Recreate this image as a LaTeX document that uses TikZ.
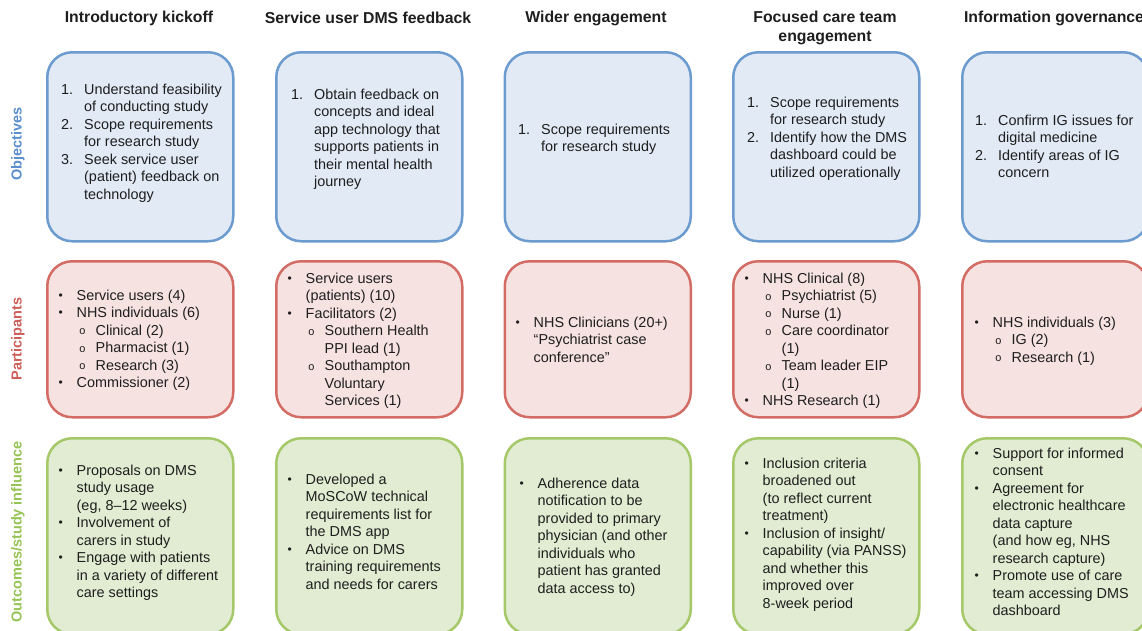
\documentclass[tikz,border=0pt]{standalone}
\usepackage{fontspec}
\setmainfont{Liberation Sans}
\setmonofont{Liberation Mono}
\definecolor{bluebd}{RGB}{108,155,207}
\definecolor{bluefl}{RGB}{226,234,246}
\definecolor{redbd}{RGB}{212,108,102}
\definecolor{redfl}{RGB}{247,226,226}
\definecolor{grnbd}{RGB}{165,200,105}
\definecolor{grnfl}{RGB}{226,236,210}
\definecolor{bluelb}{RGB}{90,142,205}
\definecolor{redlb}{RGB}{205,95,90}
\definecolor{grnlb}{RGB}{150,195,85}
\definecolor{txt}{RGB}{30,30,30}
\newcommand\nItem[2]{\strut\makebox[23pt][l]{#1}#2}
\newcommand\nCont[1]{\strut\hspace*{23pt}#1}
\newcommand\bItem[1]{\strut\makebox[18pt][l]{\raisebox{1pt}{\fontsize{12}{12}\selectfont\textbullet}}#1}
\newcommand\bCont[1]{\strut\hspace*{18pt}#1}
\newcommand\sItem[1]{\strut\hspace*{20.5pt}\makebox[16.5pt][l]{\raisebox{0.5pt}{\fontsize{11}{11}\selectfont\ttfamily o}}#1}
\newcommand\sCont[1]{\strut\hspace*{37pt}#1}
\begin{document}
\begin{tikzpicture}[x=1pt,y=-1pt,
  box/.style={rectangle,rounded corners=25pt,line width=2.5pt,minimum width=186pt,inner sep=0pt,anchor=north west},
  objbox/.style={box,draw=bluebd,fill=bluefl,minimum height=189pt},
  parbox/.style={box,draw=redbd,fill=redfl,minimum height=156pt},
  outbox/.style={box,draw=grnbd,fill=grnfl,minimum height=196pt},
  body/.style={anchor=north west,inner sep=0pt,align=left,text=txt,font=\fontsize{14.4}{17.5}\selectfont},
  head/.style={inner sep=0pt,align=center,text=txt,font=\bfseries\fontsize{15.8}{19}\selectfont},
  rowlab/.style={inner sep=0pt,rotate=90,font=\bfseries\fontsize{14.5}{17}\selectfont}]
\useasboundingbox (0,0) rectangle (1142,630);
\clip (0,0) rectangle (1142,630);
% headers
\node[head] (h1) at (139,18) {Introductory kickoff};
\node[head] (h2) at (368,18) {Service user DMS feedback};
\node[head] (h3) at (596,18) {Wider engagement};
\node[head] (h4) at (825,27.5) {Focused care team\\engagement};
\node[head] (h5) at (1054,18) {Information governance};
% row labels
\node[rowlab,text=bluelb] (lob) at (18,144) {Objectives};
\node[rowlab,text=redlb] (lpa) at (18,339) {Participants};
\node[rowlab,text=grnlb] (loc) at (18,532) {Outcomes/study influence};
% boxes
\node[objbox] (ob1) at (46,51) {};
\node[objbox] (ob2) at (275,51) {};
\node[objbox] (ob3) at (503.5,51) {};
\node[objbox] (ob4) at (732,51) {};
\node[objbox] (ob5) at (961,51) {};
\node[parbox] (pa1) at (46,260) {};
\node[parbox] (pa2) at (275,260) {};
\node[parbox] (pa3) at (503.5,260) {};
\node[parbox] (pa4) at (732,260) {};
\node[parbox] (pa5) at (961,260) {};
\node[outbox] (oc1) at (46,437) {};
\node[outbox] (oc2) at (275,437) {};
\node[outbox] (oc3) at (503.5,437) {};
\node[outbox] (oc4) at (732,437) {};
\node[outbox] (oc5) at (961,437) {};
% objectives texts
\node[body] (tob1) at (61,81.75) {\nItem{1.}{Understand feasibility}\\\nCont{of conducting study}\\\nItem{2.}{Scope requirements}\\\nCont{for research study}\\\nItem{3.}{Seek service user}\\\nCont{(patient) feedback on}\\\nCont{technology}};
\node[body] (tob2) at (291,86.75) {\nItem{1.}{Obtain feedback on}\\\nCont{concepts and ideal}\\\nCont{app technology that}\\\nCont{supports patients in}\\\nCont{their mental health}\\\nCont{journey}};
\node[body] (tob3) at (518,121.75) {\nItem{1.}{Scope requirements}\\\nCont{for research study}};
\node[body] (tob4) at (747,94.75) {\nItem{1.}{Scope requirements}\\\nCont{for research study}\\\nItem{2.}{Identify how the DMS}\\\nCont{dashboard could be}\\\nCont{utilized operationally}};
\node[body] (tob5) at (975,112.75) {\nItem{1.}{Confirm IG issues for}\\\nCont{digital medicine}\\\nItem{2.}{Identify areas of IG}\\\nCont{concern}};
% participants texts
\node[body] (tpa1) at (58.5,287.75) {\bItem{Service users (4)}\\\bItem{NHS individuals (6)}\\\sItem{Clinical (2)}\\\sItem{Pharmacist (1)}\\\sItem{Research (3)}\\\bItem{Commissioner (2)}};
\node[body] (tpa2) at (287.5,270.75) {\bItem{Service users}\\\bCont{(patients) (10)}\\\bItem{Facilitators (2)}\\\sItem{Southern Health}\\\sCont{PPI lead (1)}\\\sItem{Southampton}\\\sCont{Voluntary}\\\sCont{Services (1)}};
\node[body] (tpa3) at (515.5,314.75) {\bItem{NHS Clinicians (20+)}\\\bCont{“Psychiatrist case}\\\bCont{conference”}};
\node[body] (tpa4) at (744.5,270.75) {\bItem{NHS Clinical (8)}\\\sItem{Psychiatrist (5)}\\\sItem{Nurse (1)}\\\sItem{Care coordinator}\\\sCont{(1)}\\\sItem{Team leader EIP}\\\sCont{(1)}\\\bItem{NHS Research (1)}};
\node[body] (tpa5) at (974.5,314.75) {\bItem{NHS individuals (3)}\\\sItem{IG (2)}\\\sItem{Research (1)}};
% outcomes texts
\node[body] (toc1) at (58.5,462.75) {\bItem{Proposals on DMS}\\\bCont{study usage}\\\bCont{(eg, 8--12 weeks)}\\\bItem{Involvement of}\\\bCont{carers in study}\\\bItem{Engage with patients}\\\bCont{in a variety of different}\\\bCont{care settings}};
\node[body] (toc2) at (287.5,471.75) {\bItem{Developed a}\\\bCont{MoSCoW technical}\\\bCont{requirements list for}\\\bCont{the DMS app}\\\bItem{Advice on DMS}\\\bCont{training requirements}\\\bCont{and needs for carers}};
\node[body] (toc3) at (519.5,475.75) {\bItem{Adherence data}\\\bCont{notification to be}\\\bCont{provided to primary}\\\bCont{physician (and other}\\\bCont{individuals who}\\\bCont{patient has granted}\\\bCont{data access to)}};
\node[body] (toc4) at (744.5,455.75) {\bItem{Inclusion criteria}\\\bCont{broadened out}\\\bCont{(to reflect current}\\\bCont{treatment)}\\\bItem{Inclusion of insight/}\\\bCont{capability (via PANSS)}\\\bCont{and whether this}\\\bCont{improved over}\\\bCont{8-week period}};
\node[body] (toc5) at (974.5,445.75) {\bItem{Support for informed}\\\bCont{consent}\\\bItem{Agreement for}\\\bCont{electronic healthcare}\\\bCont{data capture}\\\bCont{(and how eg, NHS}\\\bCont{research capture)}\\\bItem{Promote use of care}\\\bCont{team accessing DMS}\\\bCont{dashboard}};
\end{tikzpicture}
\end{document}
